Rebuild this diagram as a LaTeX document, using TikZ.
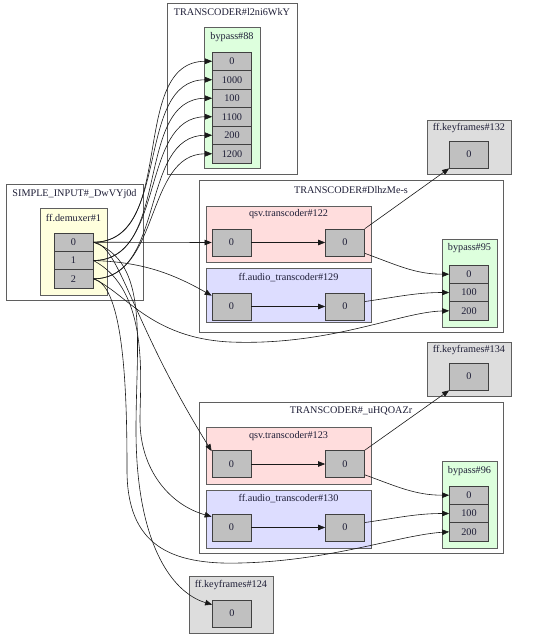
\documentclass[tikz,border=0pt]{standalone}
\usepackage{fontspec}
\setmainfont{Liberation Serif}
\usetikzlibrary{arrows.meta,fit,positioning}

\definecolor{txt}{RGB}{30,30,55}
\definecolor{edgecol}{RGB}{25,25,25}
\definecolor{boxline}{RGB}{95,95,95}
\definecolor{cellfill}{RGB}{192,192,192}
\definecolor{qsvfill}{RGB}{255,221,221}
\definecolor{audfill}{RGB}{221,221,255}
\definecolor{bypfill}{RGB}{221,255,221}
\definecolor{demfill}{RGB}{255,255,221}
\definecolor{kffill}{RGB}{221,221,221}

\tikzset{
  grp/.style={draw=boxline, fill=#1, inner sep=0pt, line width=0.7pt},
  grp/.default=white,
  grplbl/.style={text=txt, inner sep=0pt, font=\fontsize{10.2}{12}\selectfont},
  cell/.style={draw=black!75, fill=cellfill, minimum width=39pt, minimum height=#1,
    inner sep=0pt, text=txt, font=\fontsize{10.2}{12}\selectfont, line width=0.7pt},
  cell/.default=27pt,
  flow/.style={draw=edgecol, line width=0.6pt, -{Triangle[length=7pt,width=5.5pt]}},
}

\begin{document}
\begin{tikzpicture}[x=1pt,y=-1pt]
\useasboundingbox (0,0) rectangle (554,638);

% groups
\node[grp, fit={(167,3)(297,174)}] (tcA) {};
\node[grplbl] (tcAlbl) at (232,12) {TRANSCODER\#l2ni6WkY};
\node[grp=bypfill, fit={(204,27)(260,168)}] (b88) {};
\node[grplbl] (b88lbl) at (232,37) {bypass\#88};

\node[grp, fit={(6,184)(143,300)}] (inp) {};
\node[grplbl] (inplbl) at (74.5,194) {SIMPLE\_INPUT\#\_DwVYj0d};
\node[grp=demfill, fit={(40,208)(107,295)}] (dem) {};
\node[grplbl] (demlbl) at (73.5,218) {ff.demuxer\#1};

\node[grp, fit={(199,180)(503,332)}] (tcB) {};
\node[grplbl] (tcBlbl) at (351,190) {TRANSCODER\#DlhzMe-s};
\node[grp=qsvfill, fit={(206,206)(371,262)}] (q122) {};
\node[grplbl] (q122lbl) at (288.5,214.5) {qsv.transcoder\#122};
\node[grp=audfill, fit={(206,268)(371,322)}] (a129) {};
\node[grplbl] (a129lbl) at (288.5,278) {ff.audio\_transcoder\#129};
\node[grp=bypfill, fit={(442,239)(497,327)}] (b95) {};
\node[grplbl] (b95lbl) at (469.5,248) {bypass\#95};

\node[grp, fit={(199,402)(503,553)}] (tcC) {};
\node[grplbl] (tcClbl) at (351,411) {TRANSCODER\#\_uHQOAZr};
\node[grp=qsvfill, fit={(206,427)(371,484)}] (q123) {};
\node[grplbl] (q123lbl) at (288.5,436) {qsv.transcoder\#123};
\node[grp=audfill, fit={(206,490)(371,548)}] (a130) {};
\node[grplbl] (a130lbl) at (288.5,499) {ff.audio\_transcoder\#130};
\node[grp=bypfill, fit={(442,461)(497,548)}] (b96) {};
\node[grplbl] (b96lbl) at (469.5,471) {bypass\#96};

\node[grp=kffill, fit={(427,120)(511,174)}] (kf132) {};
\node[grplbl] (kf132lbl) at (469,128.5) {ff.keyframes\#132};
\node[grp=kffill, fit={(427,342)(511,396)}] (kf134) {};
\node[grplbl] (kf134lbl) at (469,350.5) {ff.keyframes\#134};
\node[grp=kffill, fit={(189,576)(273,633)}] (kf124) {};
\node[grplbl] (kf124lbl) at (231,585) {ff.keyframes\#124};

% ports
\foreach \v [count=\i from 0] in {0,1000,100,1100,200,1200}
  \node[cell=18.5pt] (b88-\v) at (232,{61.25+18.5*\i}) {\v};
\foreach \v in {0,1,2}
  \node[cell=18.3pt] (dm\v) at (73.5,{242.2+18.3*\v}) {\v};
\foreach \v [count=\i from 0] in {0,100,200}{
  \node[cell=18.3pt] (b95-\v) at (469,{274.2+18.3*\i}) {\v};
  \node[cell=18.3pt] (b96-\v) at (469,{495.2+18.3*\i}) {\v};
}
\node[cell] (q122in) at (231.5,242.5) {0};
\node[cell] (q122out) at (345,242.5) {0};
\node[cell] (a129in) at (231.5,306.5) {0};
\node[cell] (a129out) at (345,306.5) {0};
\node[cell] (q123in) at (231.5,464) {0};
\node[cell] (q123out) at (345,464) {0};
\node[cell] (a130in) at (231.5,527.5) {0};
\node[cell] (a130out) at (345,527.5) {0};
\node[cell] (kf132c) at (469,154.5) {0};
\node[cell] (kf134c) at (469,376.5) {0};
\node[cell] (kf124c) at (232,613.5) {0};

% demuxer outputs
\foreach \s/\t in {0/0,0/1000,1/100,1/1100,2/200,2/1200}
  \draw[flow] (dm\s.east) to[out=0,in=180] (b88-\t.west);
\draw[flow] (dm0.east) -- (q122in.west);
\draw[flow] (dm1.east) .. controls (140,262) and (170,272) .. ([yshift=-3pt]a129in.north west);
\draw[flow] (dm2.east) .. controls (125,292) and (150,338) .. (230,342)
  .. controls (330,346) and (400,312) .. (b95-200.west);
\draw[flow] (dm0.east) .. controls (120,245) and (130,320) .. ([yshift=-1pt]q123in.north west);
\draw[flow] (dm1.east) .. controls (150,290) and (140,380) .. (140,420)
  .. controls (140,470) and (170,505) .. ([yshift=-3pt]a130in.north west);
\draw[flow] (dm2.east) .. controls (125,285) and (127,400) .. (127,470)
  .. controls (127,545) and (170,565) .. (240,563)
  .. controls (330,561) and (400,535) .. (b96-200.west);
\draw[flow] (dm0.east) .. controls (150,262) and (136,340) .. (136,430)
  .. controls (136,540) and (170,592) .. ([yshift=-5pt]kf124c.north west);

% transcoders
\foreach \t/\k/\b in {122/132/95,123/134/96}{
  \draw[flow] (q\t in) -- (q\t out);
  \draw[flow] (q\t out.north east) -- (kf\k c.south west);
  \draw[flow] ([yshift=3pt]q\t out.south east) to[out=-20,in=180] (b\b-0.west);
}
\foreach \t/\b in {129/95,130/96}{
  \draw[flow] (a\t in) -- (a\t out);
  \draw[flow] ([yshift=5pt]a\t out.east) to[out=8,in=180] (b\b-100.west);
}
\end{tikzpicture}
\end{document}
